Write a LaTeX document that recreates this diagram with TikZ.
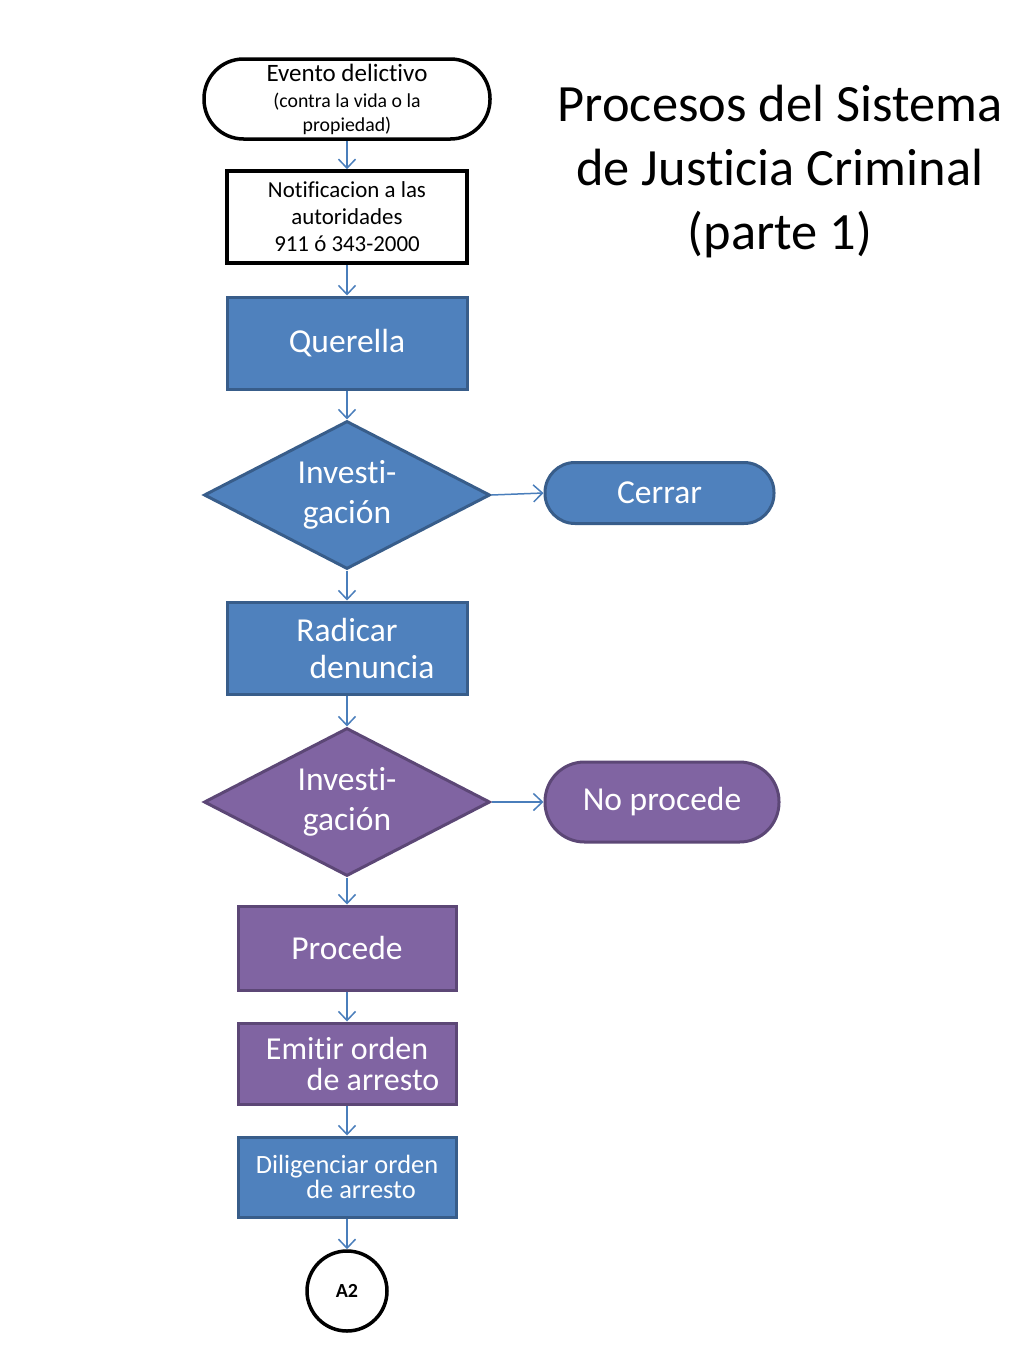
\documentclass[tikz,border=0pt]{standalone}
\usepackage{fontspec}
\setmainfont{Carlito}[Ligatures={NoCommon}]
\usepackage{tikz}
\usetikzlibrary{shapes.geometric, arrows.meta}
\definecolor{boxblue}{HTML}{4F81BD}
\definecolor{lineblue}{HTML}{385D8A}
\definecolor{boxpurple}{HTML}{8064A2}
\definecolor{linepurple}{HTML}{5C4776}
\definecolor{arrowblue}{HTML}{4A7EBB}

\begin{document}
\begin{tikzpicture}[x=1pt, y=-1pt,
    blockblue/.style={rectangle, draw=lineblue, fill=boxblue, line width=3pt, text=white, inner sep=0pt, align=center},
    blockpurple/.style={rectangle, draw=linepurple, fill=boxpurple, line width=3pt, text=white, inner sep=0pt, align=center},
    decision/.style={diamond, shape aspect=1.93, line width=3pt, text=white, inner sep=0pt, align=center, minimum width=286pt, minimum height=148pt},
    terminal/.style={rectangle, line width=3pt, text=white, inner sep=0pt, align=center},
    flow/.style={draw=arrowblue, line width=1.5pt, -{Straight Barb[length=9pt, width=17pt, line width=1.5pt]}},
    bigtext/.style={font=\fontsize{33.5}{40}\selectfont}]

    \useasboundingbox (0,0) rectangle (1024,1365);

    \node[rectangle, draw=black, line width=3.5pt, rounded corners=39.5pt, minimum width=286pt, minimum height=80pt, inner sep=0pt, align=center, font=\fontsize{19.8}{24}\selectfont] (evento) at (347,99)
        {{\fontsize{25}{27}\selectfont Evento delictivo}\\[2pt]
         (contra la vida o la\\
         propiedad)};

    \node[rectangle, draw=black, line width=3.5pt, minimum width=240pt, minimum height=92pt, inner sep=0pt, align=center, font=\fontsize{22.9}{27}\selectfont] (notif) at (347,217)
        {Notificacion a las\\autoridades\\911 ó 343-2000};

    \node[blockblue, bigtext, minimum width=240pt, minimum height=92pt] (querella) at (347,343) {Querella};

    \node[decision, draw=lineblue, fill=boxblue, bigtext] (inv1) at (347,495) {Investi-\\gación};

    \node[terminal, draw=lineblue, fill=boxblue, rounded corners=30pt, minimum width=229pt, minimum height=61pt, bigtext] (cerrar) at (659.5,493) {Cerrar};

    \node[blockblue, minimum width=240pt, minimum height=92pt, font=\fontsize{33.5}{37}\selectfont] (radicar) at (347,648) {Radicar\\\hspace*{50pt}denuncia};

    \node[decision, draw=linepurple, fill=boxpurple, bigtext] (inv2) at (347,802) {Investi-\\gación};

    \node[terminal, draw=linepurple, fill=boxpurple, rounded corners=39.5pt, minimum width=234pt, minimum height=80pt, bigtext] (noprocede) at (662,802) {No procede};

    \node[blockpurple, bigtext, minimum width=218pt, minimum height=84pt] (procede) at (347,948) {Procede};

    \node[blockpurple, minimum width=218pt, minimum height=81pt, font=\fontsize{32}{31}\selectfont] (emitir) at (347,1063.5) {Emitir orden\\\hspace*{52pt}de arresto};

    \node[blockblue, minimum width=218pt, minimum height=80pt, font=\fontsize{26.4}{25}\selectfont] (diligenciar) at (347,1177) {Diligenciar orden\\\hspace*{28pt}de arresto};

    \node[circle, draw=black, line width=3.5pt, minimum size=80pt, inner sep=0pt, font=\fontsize{20}{24}\selectfont\bfseries] (a2) at (347,1291) {A2};

    \node[align=center, font=\fontsize{52.4}{64}\selectfont] (titulo) at (780,172)
        {Procesos del Sistema\\de Justicia Criminal\\(parte 1)};

    \draw[flow] (evento) -- (notif);
    \draw[flow] (notif) -- (querella);
    \draw[flow] (querella) -- (inv1);
    \draw[flow] (inv1.east) -- (cerrar.west);
    \draw[flow] (inv1) -- (radicar);
    \draw[flow] (radicar) -- (inv2);
    \draw[flow] (inv2.east) -- (noprocede.west);
    \draw[flow] (inv2) -- (procede);
    \draw[flow] (procede) -- (emitir);
    \draw[flow] (emitir) -- (diligenciar);
    \draw[flow] (diligenciar) -- (a2);

\end{tikzpicture}
\end{document}
